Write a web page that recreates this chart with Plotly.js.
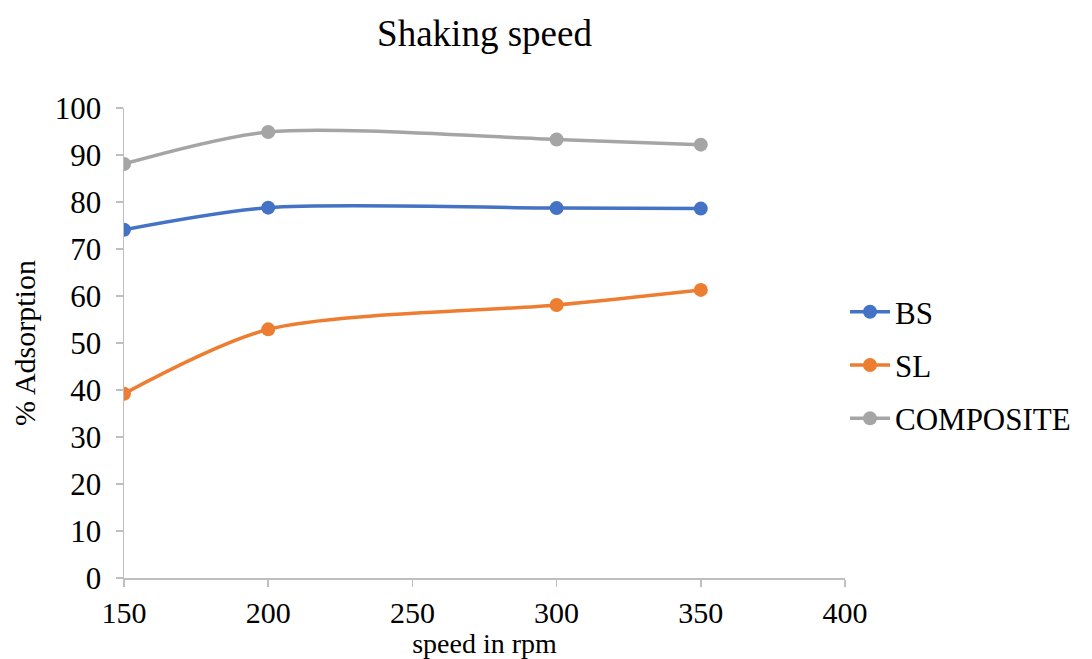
<!DOCTYPE html>
<html>
<head>
<meta charset="utf-8">
<script src="https://cdn.plot.ly/plotly-3.0.1.min.js"></script>
<style>html,body{margin:0;padding:0;background:#fff;}#chart{width:1092px;height:659px;}</style>
</head>
<body>
<div id="chart"></div>
<script>
var speeds = [150, 200, 300, 350];
var bsValues = [74.1, 78.8, 78.7, 78.6];
var slValues = [39.2, 52.9, 58.1, 61.3];
var compositeValues = [88.1, 94.9, 93.3, 92.2];
var seriesNames = ['BS', 'SL', 'COMPOSITE'];
var seriesColors = ['#4472C4', '#ED7D31', '#A5A5A5'];
var xTicks = [150, 200, 250, 300, 350, 400];
var yTicks = [0, 10, 20, 30, 40, 50, 60, 70, 80, 90, 100];

var allValues = [bsValues, slValues, compositeValues];
var traces = allValues.map(function (vals, i) {
  return {
    x: speeds, y: vals, name: seriesNames[i], type: 'scatter', mode: 'lines+markers',
    legendgroup: 'g' + i,
    line: {color: seriesColors[i], width: 3.5, shape: 'spline', smoothing: 0.8},
    marker: {color: seriesColors[i], size: 14}
  };
});

var font = '"Liberation Serif", "Times New Roman", serif';
var layout = {
  width: 1092, height: 659,
  margin: {l: 124, r: 247, t: 108, b: 81},
  paper_bgcolor: '#ffffff', plot_bgcolor: '#ffffff',
  font: {family: font, color: '#000000', size: 31},
  title: {text: 'Shaking speed', font: {family: font, size: 37, color: '#000'}, x: 0.5, xanchor: 'center', y: 0.95, yanchor: 'middle', xref: 'paper'},
  xaxis: {
    range: [150, 400], tickvals: xTicks, ticktext: xTicks.map(String),
    showgrid: false, zeroline: false, showline: true, linecolor: '#BFBFBF', linewidth: 1.5,
    ticks: 'outside', ticklen: 7, tickcolor: '#BFBFBF', tickwidth: 1.5,
    tickfont: {family: font, size: 30, color: '#000'},
    title: {text: 'speed in rpm', font: {family: font, size: 28, color: '#000'}, standoff: 7}
  },
  yaxis: {
    range: [0, 100], tickvals: yTicks, ticktext: yTicks.map(String),
    showgrid: false, zeroline: false, showline: true, linecolor: '#BFBFBF', linewidth: 1.5,
    ticks: 'outside', ticklen: 7, tickcolor: '#BFBFBF', tickwidth: 1.5,
    ticklabelstandoff: 8,
    tickfont: {family: font, size: 31, color: '#000'},
    title: {text: '% Adsorption', font: {family: font, size: 30, color: '#000'}, standoff: 10}
  },
  legend: {
    x: 1.0, xanchor: 'left', y: 0.453, yanchor: 'middle',
    font: {family: font, size: 31, color: '#000'},
    tracegroupgap: 10, traceorder: 'grouped',
    bgcolor: 'rgba(0,0,0,0)', itemwidth: 40
  },
  showlegend: true
};

Plotly.newPlot('chart', traces, layout, {displayModeBar: false, staticPlot: true});
</script>
</body>
</html>
